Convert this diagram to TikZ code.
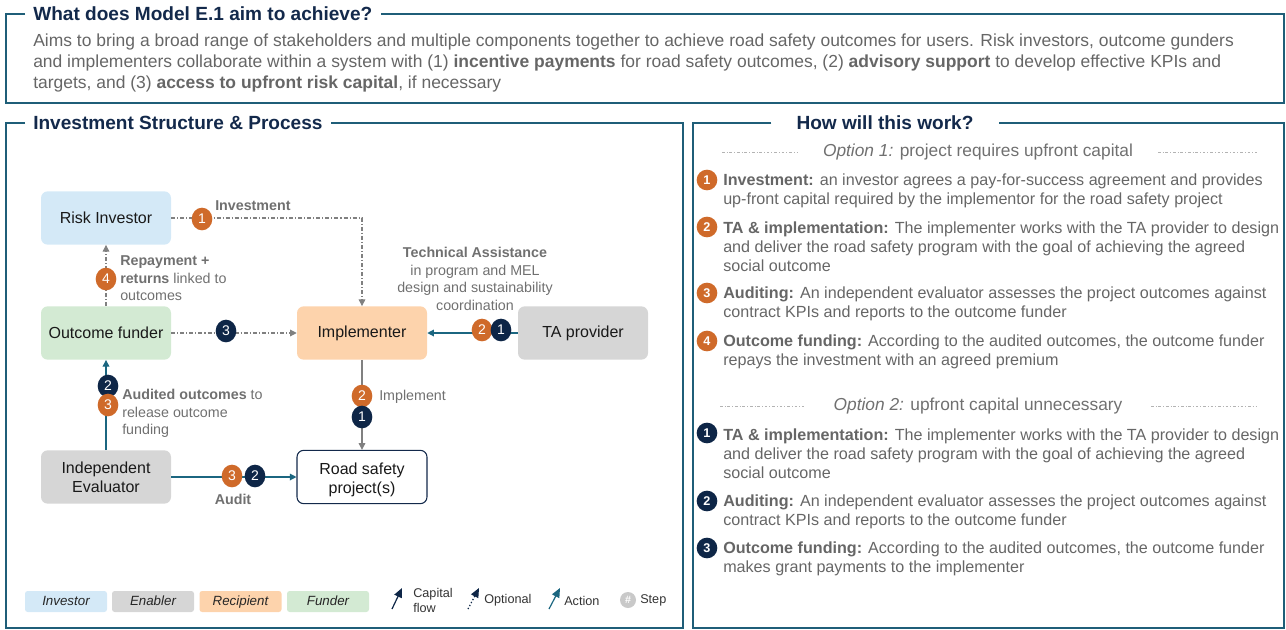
\documentclass[tikz,border=0pt]{standalone}
\usepackage{fontspec}
\setmainfont{Liberation Sans}
\usetikzlibrary{arrows.meta,shapes.geometric,positioning}
\definecolor{modFrame}{HTML}{1F5E78}
\definecolor{modNavy}{HTML}{13294B}
\definecolor{modOrange}{HTML}{CF6A2A}
\definecolor{modBadge}{HTML}{0E2647}
\definecolor{modBlue}{HTML}{D4E9F7}
\definecolor{modGreen}{HTML}{D3EAD3}
\definecolor{modPeach}{HTML}{FDD3AC}
\definecolor{modGray}{HTML}{D6D6D6}
\definecolor{modText}{HTML}{666666}
\definecolor{modLabel}{HTML}{707070}
\definecolor{modLine}{HTML}{808080}
\definecolor{modTeal}{HTML}{1B6680}
\definecolor{modStep}{HTML}{C9C9C9}
\tikzset{
  mod frame/.style={draw=modFrame, line width=1.6pt},
  mod title/.style={font=\fontsize{14.3}{16}\selectfont\bfseries, text=modNavy, inner xsep=6pt, inner ysep=0pt},
  mod body/.style={font=\fontsize{13.1}{15.75}\selectfont, text=modText, align=left, inner sep=0pt},
  mod item/.style={font=\fontsize{12.1}{14.25}\selectfont, text=modText, align=left, inner sep=0pt},
  mod option/.style={font=\fontsize{13}{14}\selectfont, text=modLabel, inner sep=0pt},
  mod rule/.style={draw=modLine!60, line width=0.7pt, dash pattern=on 2pt off 1.5pt on 0.6pt off 1.5pt},
  mod actor/.style={rounded corners=5pt, minimum width=97.5pt, minimum height=40pt, align=center,
    font=\fontsize{12}{14.25}\selectfont, text=black!90, inner sep=2pt},
  mod obadge/.style={ellipse, fill=modOrange, minimum width=15.5pt, minimum height=17pt, inner sep=0pt,
    text=white, font=\fontsize{10.5}{12}\selectfont},
  mod nbadge/.style={mod obadge, fill=modBadge},
  mod rbadge/.style={circle, fill=modOrange, minimum size=15.5pt, inner sep=0pt,
    text=white, font=\fontsize{9.5}{11}\selectfont\bfseries},
  mod label/.style={font=\fontsize{10.7}{13.2}\selectfont, text=modLabel, inner sep=0pt},
  mod optional/.style={draw=modLine, line width=0.8pt, dash pattern=on 3pt off 1.5pt on 0.8pt off 1.5pt,
    -{Triangle[length=5pt,width=5pt]}},
  mod implement/.style={draw=modLine, line width=0.8pt, -{Triangle[length=5pt,width=5pt]}},
  mod action/.style={draw=modTeal, line width=0.9pt, -{Triangle[length=5pt,width=5pt]}},
  mod key/.style={rounded corners=2pt, minimum width=61.5pt, minimum height=15.75pt, inner sep=0pt,
    text height=7.5pt, text depth=2pt,
    font=\fontsize{10}{12}\selectfont\itshape, text=black!85},
  mod keytext/.style={font=\fontsize{9.5}{11.5}\selectfont, text=black!80, align=left, inner sep=0pt},
}
\begin{document}
\begin{tikzpicture}[x=0.75pt,y=-0.75pt]
  \useasboundingbox (0,0) rectangle (1286,629);

  % aim box
  \node[mod title, anchor=west] (aimttl) at (25,14) {What does Model E.1 aim to achieve?};
  \draw[mod frame] (aimttl.west) -- (6,14) -- (6,103) -- (1284,103) -- (1284,14) -- (aimttl.east);
  \node[mod body, anchor=west] (aimtxt) at (33,62.5) {Aims to bring a broad range of stakeholders and multiple components together to achieve road safety outcomes for users. Risk investors, outcome gunders\\
    and implementers collaborate within a system with (1) \textbf{incentive payments} for road safety outcomes, (2) \textbf{advisory support} to develop effective KPIs and\\
    targets, and (3) \textbf{access to upfront risk capital}, if necessary};

  % structure box
  \node[mod title, anchor=west] (strttl) at (25,123) {Investment Structure \& Process};
  \draw[mod frame] (strttl.west) -- (6,123) -- (6,628) -- (683,628) -- (683,123) -- (strttl.east);

  \node[mod actor, fill=modBlue] (risk) at (106,218) {Risk Investor};
  \node[mod actor, fill=modGreen] (funder) at (106,333) {Outcome funder};
  \node[mod actor, fill=modPeach] (impl) at (362,333) {Implementer};
  \node[mod actor, fill=modGray] (ta) at (583,333) {TA provider};
  \node[mod actor, fill=modGray] (eval) at (106,477) {Independent\\Evaluator};
  \node[mod actor, fill=white, draw=modNavy, line width=0.8pt] (road) at (362,477) {\rule{0pt}{12.5pt}Road safety\\project(s)};

  \draw[mod optional] (risk.east) -| (impl.north);
  \draw[mod optional] (funder.north) -- (risk.south);
  \draw[mod optional] (funder.east) -- (impl.west);
  \draw[mod action] (ta.west) -- (impl.east);
  \draw[mod implement] (impl.south) -- (road.north);
  \draw[mod action] (eval.north) -- (funder.south);
  \draw[mod action] (eval.east) -- (road.west);

  % step badges
  \node[mod obadge] (inv1) at (202,219) {1};
  \node[mod obadge] (rep4) at (106,279) {4};
  \node[mod nbadge] (fun3) at (226,331) {3};
  \node[mod obadge] (ta2) at (482,330) {2};
  \node[mod nbadge] (ta1) at (501,330) {1};
  \node[mod obadge] (imp2) at (362,396) {2};
  \node[mod nbadge] (imp1) at (362,417) {1};
  \node[mod nbadge] (aud2) at (108,386) {2};
  \node[mod obadge] (aud3) at (108,405) {3};
  \node[mod obadge] (eva3) at (232,476) {3};
  \node[mod nbadge] (eva2) at (255,476) {2};

  % flow labels
  \node[mod label, anchor=west] (invlbl) at (215,206) {\textbf{Investment}};
  \node[mod label, anchor=west, align=left] (replbl) at (120,278.5) {\textbf{Repayment +}\\\textbf{returns} linked to\\outcomes};
  \node[mod label, align=center] (talbl) at (475,279) {\textbf{Technical Assistance}\\in program and MEL\\design and sustainability\\coordination};
  \node[mod label, anchor=west] (implbl) at (379,397) {Implement};
  \node[mod label, anchor=west, align=left] (audlbl) at (122,413.5) {\textbf{Audited outcomes} to\\release outcome\\funding};
  \node[mod label] (evalbl) at (233,499) {\textbf{Audit}};

  % legend
  \node[mod key, fill=modBlue] (keyinv) at (66,601.5) {Investor};
  \node[mod key, fill=modGray] (keyena) at (153,601.5) {Enabler};
  \node[mod key, fill=modPeach] (keyrec) at (240.5,601.5) {Recipient};
  \node[mod key, fill=modGreen] (keyfun) at (328,601.5) {Funder};
  \draw[draw=modBadge, line width=0.9pt, -{Triangle[length=7pt,width=6pt]}] (392,609) -- (402,588);
  \node[mod keytext, anchor=west] (keycap) at (413,600.5) {Capital\\flow};
  \draw[draw=modBadge, line width=0.9pt, dash pattern=on 1pt off 1.5pt, -{Triangle[length=7pt,width=6pt]}] (468,609) -- (479,588);
  \node[mod keytext, anchor=west] (keyopt) at (484,600.5) {Optional};
  \draw[draw=modTeal, line width=0.9pt, -{Triangle[length=7pt,width=6pt]}] (549,609) -- (560,588);
  \node[mod keytext, anchor=west] (keyact) at (564,600.5) {Action};
  \node[circle, fill=modStep, minimum size=12pt, inner sep=0pt, text=white, font=\fontsize{8}{9}\selectfont\bfseries] (keystp) at (628,600) {\#};
  \node[mod keytext, anchor=west] (keystep) at (640,600.5) {Step};

  % how box
  \node[mod title, inner xsep=18.75pt] (howttl) at (885,123) {How will this work?};
  \draw[mod frame] (howttl.west) -- (693,123) -- (693,628) -- (1284,628) -- (1284,123) -- (howttl.east);

  \node[mod option] (opt1) at (978,152) {\textit{Option 1:} project requires upfront capital};
  \draw[mod rule] (722,152) -- (797,152);
  \draw[mod rule] (1158,152) -- (1257,152);

  \node[mod rbadge] (one1) at (707,180) {1};
  \node[mod item, anchor=west] (one1txt) at (723,190.5) {\textbf{Investment:} an investor agrees a pay-for-success agreement and provides\\up-front capital required by the implementor for the road safety project};
  \node[mod rbadge] (one2) at (707,227) {2};
  \node[mod item, anchor=west] (one2txt) at (723,247) {\textbf{TA \& implementation:} The implementer works with the TA provider to design\\and deliver the road safety program with the goal of achieving the agreed\\social outcome};
  \node[mod rbadge] (one3) at (707,293) {3};
  \node[mod item, anchor=west] (one3txt) at (723,303.5) {\textbf{Auditing:} An independent evaluator assesses the project outcomes against\\contract KPIs and reports to the outcome funder};
  \node[mod rbadge] (one4) at (707,341) {4};
  \node[mod item, anchor=west] (one4txt) at (723,351.5) {\textbf{Outcome funding:} According to the audited outcomes, the outcome funder\\repays the investment with an agreed premium};

  \node[mod option] (opt2) at (978,406) {\textit{Option 2:} upfront capital unnecessary};
  \draw[mod rule] (720,406) -- (804,406);
  \draw[mod rule] (1151,406) -- (1257,406);

  \node[mod rbadge, fill=modBadge] (two1) at (707,433) {1};
  \node[mod item, anchor=west] (two1txt) at (723,453.5) {\textbf{TA \& implementation:} The implementer works with the TA provider to design\\and deliver the road safety program with the goal of achieving the agreed\\social outcome};
  \node[mod rbadge, fill=modBadge] (two2) at (707,501) {2};
  \node[mod item, anchor=west] (two2txt) at (723,511.5) {\textbf{Auditing:} An independent evaluator assesses the project outcomes against\\contract KPIs and reports to the outcome funder};
  \node[mod rbadge, fill=modBadge] (two3) at (707,548) {3};
  \node[mod item, anchor=west] (two3txt) at (723,558.5) {\textbf{Outcome funding:} According to the audited outcomes, the outcome funder\\makes grant payments to the implementer};
\end{tikzpicture}
\end{document}
